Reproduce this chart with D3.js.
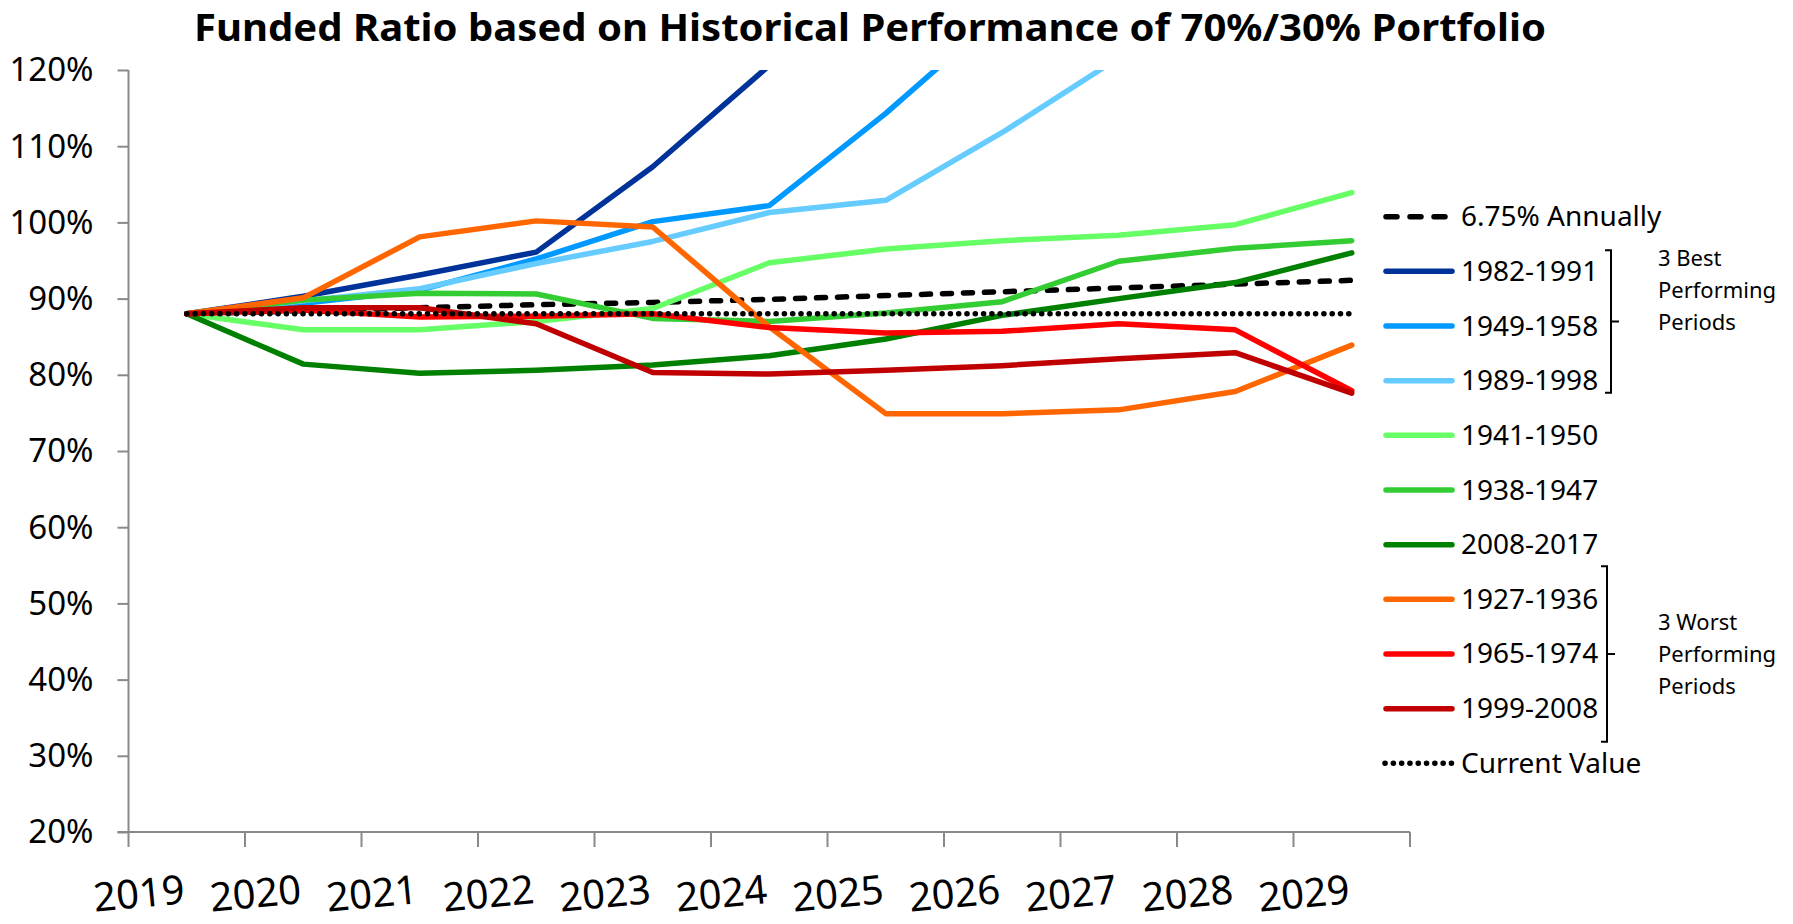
<!DOCTYPE html>
<html>
<head>
<meta charset="utf-8">
<script src="https://cdn.jsdelivr.net/npm/d3@7"></script>
<style>
    body { margin: 0; background: #fff; }
    text { font-family: "Noto Sans", sans-serif; fill: #000; }
</style>
</head>
<body>
<div id="chart"></div>
<script>
// ---- data ----
const years = ["2019", "2020", "2021", "2022", "2023", "2024", "2025", "2026", "2027", "2028", "2029"];
const yTicks = [20, 30, 40, 50, 60, 70, 80, 90, 100, 110, 120];

const annually675 = [88, 88.4, 88.8, 89.2, 89.5, 89.9, 90.4, 90.9, 91.4, 91.9, 92.4];
const p1982_1991 = [88, 90.3, 93.1, 96.1, 107.3, 120.6, 133, 146, 160, 175, 190];
const p1949_1958 = [88, 89.4, 91.1, 95.2, 100.1, 102.2, 114.3, 127.7, 140, 152, 165];
const p1989_1998 = [88, 89.7, 91.3, 94.6, 97.5, 101.3, 102.9, 111.8, 121.6, 133, 145];
const p1941_1950 = [88, 85.9, 85.9, 87.0, 88.7, 94.7, 96.5, 97.6, 98.3, 99.7, 103.9];
const p1938_1947 = [88, 89.8, 90.7, 90.6, 87.4, 87.0, 88.1, 89.6, 94.9, 96.6, 97.6];
const p2008_2017 = [88, 81.4, 80.2, 80.6, 81.3, 82.5, 84.7, 87.8, 90.0, 92.1, 96.0];
const p1927_1936 = [88, 90.1, 98.1, 100.2, 99.4, 86.3, 74.9, 74.9, 75.4, 77.8, 83.9];
const p1965_1974 = [88, 88.5, 87.6, 87.7, 88.0, 86.2, 85.5, 85.7, 86.7, 85.9, 77.9];
const p1999_2008 = [88, 88.8, 88.8, 86.7, 80.3, 80.1, 80.6, 81.2, 82.1, 82.9, 77.6];
const currentValue = [88, 88, 88, 88, 88, 88, 88, 88, 88, 88, 88];

const series = [
    { name: "6.75% Annually", values: annually675, color: "#000000", style: "dash" },
    { name: "1982-1991", values: p1982_1991, color: "#003399" },
    { name: "1949-1958", values: p1949_1958, color: "#0099FF" },
    { name: "1989-1998", values: p1989_1998, color: "#66CCFF" },
    { name: "1941-1950", values: p1941_1950, color: "#66FF66" },
    { name: "1938-1947", values: p1938_1947, color: "#33CC33" },
    { name: "2008-2017", values: p2008_2017, color: "#008000" },
    { name: "1927-1936", values: p1927_1936, color: "#FF6600" },
    { name: "1965-1974", values: p1965_1974, color: "#FF0000" },
    { name: "1999-2008", values: p1999_2008, color: "#C00000" },
    { name: "Current Value", values: currentValue, color: "#000000", style: "dot" }
];

const brackets = [
    { from: "1982-1991", to: "1989-1998", lines: ["3 Best", "Performing", "Periods"] },
    { from: "1927-1936", to: "1999-2008", lines: ["3 Worst", "Performing", "Periods"] }
];

// ---- layout ----
const width = 1793, height = 924;
const plot = { left: 128.5, right: 1410, top: 70, bottom: 832 };

const svg = d3.select("#chart").append("svg")
    .attr("width", width)
    .attr("height", height);

const x = d3.scaleBand()
    .domain(years)
    .range([plot.left, plot.right])
    .padding(0);

const y = d3.scaleLinear()
    .domain([20, 120])
    .range([plot.bottom, plot.top]);

const cx = d => x(d) + x.bandwidth() / 2;

function strokeDash(s) {
    if (s.style === "dash") return "9 12";
    if (s.style === "dot") return "0.1 8.2";
    return null;
}
function strokeWidth(s) {
    return 5.5;
}

// title
svg.append("text")
    .attr("x", 194)
    .attr("y", 41)
    .attr("font-size", 38)
    .attr("font-weight", "bold")
    .attr("textLength", 1352)
    .attr("lengthAdjust", "spacingAndGlyphs")
    .text("Funded Ratio based on Historical Performance of 70%/30% Portfolio");

// clip for lines
svg.append("defs").append("clipPath")
    .attr("id", "plot-clip")
    .append("rect")
    .attr("x", plot.left)
    .attr("y", plot.top)
    .attr("width", plot.right - plot.left)
    .attr("height", plot.bottom - plot.top);

// y axis
const yAxis = svg.append("g")
    .attr("transform", `translate(${plot.left},0)`)
    .call(d3.axisLeft(y).tickValues(yTicks).tickSize(11).tickPadding(24).tickFormat(d => d + "%"));
yAxis.selectAll("path, line").attr("stroke", "#898989").attr("stroke-width", 2);
yAxis.select(".domain").attr("d", `M0,${plot.top}V${plot.bottom}`);
yAxis.selectAll("text")
    .attr("font-size", 33)
    .attr("font-family", "Noto Sans")
    .attr("fill", "#000")
    .attr("dy", "0.33em");

// x axis line + ticks at band edges
const xAxis = svg.append("g");
xAxis.append("line")
    .attr("x1", plot.left - 11).attr("x2", plot.right)
    .attr("y1", y(20)).attr("y2", y(20))
    .attr("stroke", "#898989").attr("stroke-width", 2);
xAxis.selectAll(".xtick")
    .data(years.concat(["end"]))
    .enter()
    .append("line")
    .attr("class", "xtick")
    .attr("x1", d => d === "end" ? plot.right : x(d))
    .attr("x2", d => d === "end" ? plot.right : x(d))
    .attr("y1", y(20))
    .attr("y2", y(20) + 15)
    .attr("stroke", "#898989").attr("stroke-width", 2);

xAxis.selectAll(".xlabel")
    .data(years)
    .enter()
    .append("text")
    .attr("class", "xlabel")
    .attr("text-anchor", "end")
    .attr("font-size", 40)
    .attr("transform", d => `translate(${cx(d) - 1},903) rotate(-5.5)`)
    .text(d => d);

// lines
const line = d3.line()
    .x((d, i) => cx(years[i]))
    .y(d => y(d));

svg.append("g")
    .attr("clip-path", "url(#plot-clip)")
    .selectAll("path")
    .data(series)
    .enter()
    .append("path")
    .attr("d", d => line(d.values))
    .attr("fill", "none")
    .attr("stroke", d => d.color)
    .attr("stroke-width", strokeWidth)
    .attr("stroke-dasharray", strokeDash)
    .attr("stroke-linecap", "round")
    .attr("stroke-linejoin", "round");

// legend
const legendTop = 216.7, legendStep = 54.66;
const legend = svg.append("g");
const item = legend.selectAll("g")
    .data(series)
    .enter()
    .append("g")
    .attr("transform", (d, i) => `translate(0,${legendTop + i * legendStep})`);

item.append("line")
    .attr("x1", d => d.style === "dot" ? 1385 : 1386)
    .attr("x2", 1452)
    .attr("stroke", d => d.color)
    .attr("stroke-width", strokeWidth)
    .attr("stroke-dasharray", d => d.style === "dash" ? "11 13" : strokeDash(d))
    .attr("stroke-linecap", "round");

item.append("text")
    .attr("x", 1461)
    .attr("y", 9.5)
    .attr("font-size", 28)
    .text(d => d.name);

// brackets (best: short tail below, text sits high; worst: symmetric)
const rowY = name => legendTop + series.findIndex(s => s.name === name) * legendStep;
const bracketGeom = [
    { bx: 1611, above: 21, below: 12, textDy: -56 },
    { bx: 1607, above: 33, below: 33, textDy: -24 }
];
const br = svg.append("g");
brackets.forEach((b, k) => {
    const g = bracketGeom[k];
    const y0 = rowY(b.from) - g.above, y1 = rowY(b.to) + g.below;
    const mid = (y0 + y1) / 2;
    br.append("path")
        .attr("d", `M${g.bx - 6},${y0}H${g.bx}V${y1}H${g.bx - 6}M${g.bx},${mid}H${g.bx + 8}`)
        .attr("fill", "none")
        .attr("stroke", "#000")
        .attr("stroke-width", 2);
    br.append("g").selectAll("text")
        .data(b.lines)
        .enter()
        .append("text")
        .attr("x", 1658)
        .attr("y", (d, i) => mid + g.textDy + i * 32)
        .attr("font-size", 22)
        .text(d => d);
});
</script>
</body>
</html>
